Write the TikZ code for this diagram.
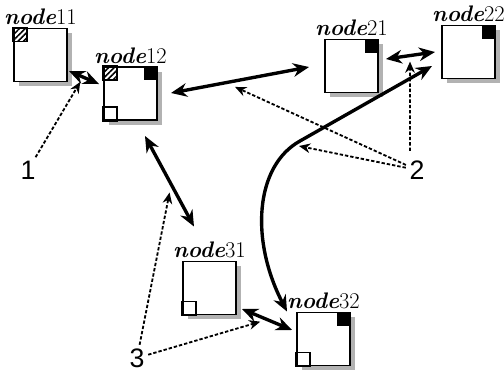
\documentclass[tikz,border=0pt]{standalone}
\usepackage{fontspec}
\newfontfamily\numfont{Liberation Sans}
\usetikzlibrary{arrows.meta,calc,patterns.meta,shadows}

\begin{document}
\begin{tikzpicture}[x=0.25mm,y=-0.25mm,
  cell/.style={draw,line width=1.4pt,fill=white,minimum size=13.25mm,inner sep=0pt,
    general shadow={fill=gray!60,shadow xshift=1.2mm,shadow yshift=-1.2mm},
    label={[font=\fontsize{16}{18}\selectfont,inner sep=1.5pt]above:{\textbf{\textit{node}}#1}}},
  hatched/.style={draw,line width=1pt,pattern={Lines[angle=45,distance=2.8pt,line width=1.1pt]}},
  link/.style={line width=2.4pt,{Stealth[length=4mm,width=3.4mm]}-{Stealth[length=4mm,width=3.4mm]}},
  hint/.style={line width=1.3pt,dash pattern=on 2.4pt off 1.4pt,shorten <=1pt,
    -{Stealth[length=2.8mm,width=2.4mm]}},
  tag/.style={font=\numfont\fontsize{19}{21}\selectfont,inner sep=1.5pt}]
\useasboundingbox (0,0) rectangle (504,371);

% the six cells
\node[cell=11] (n11) at (40.5,55) {};
\node[cell=12] (n12) at (130.5,93.5) {};
\node[cell=21] (n21) at (351.5,66) {};
\node[cell=22] (n22) at (468.5,52) {};
\node[cell=31] (n31) at (209.5,288) {};
\node[cell=32] (n32) at (323.5,339) {};

% corner marks
\draw[hatched] (n11.north west) rectangle ++(14,14);
\draw[hatched] (n12.north west) rectangle ++(14,14);
\fill (n12.north east) rectangle ++(-14,14);
\draw[line width=1pt] (n12.south west) rectangle ++(14,-14);
\fill (n21.north east) rectangle ++(-14,14);
\fill (n22.north east) rectangle ++(-14,14);
\draw[line width=1pt] (n31.south west) rectangle ++(14,-14);
\fill (n32.north east) rectangle ++(-14,14);
\draw[line width=1pt] (n32.south west) rectangle ++(14,-14);

% links between cells
\draw[link] ($(n11.south east)+(1,-11.5)$) -- coordinate[pos=0.375] (l1) ($(n12.north west)+(-4,18)$);
\draw[link] ($(n12.east)+(13,-0.5)$) -- coordinate[pos=0.464] (l2) ($(n21.west)+(-15,1)$);
\draw[link] ($(n12.south)+(14.5,15)$) -- coordinate[pos=0.624] (l3) ($(n31.north)+(-15.5,-34)$);
\draw[link] ($(n21.east)+(7,-7)$) -- coordinate[pos=0.49] (l4) ($(n22.west)+(-6,0)$);
\draw[link] ($(n31.south east)+(5,-6.5)$) -- coordinate[pos=0.365] (l5) ($(n32.west)+(-4,-9)$);
\coordinate (bend) at (300,141);
\draw[link] ($(n22.west)+(-9,14)$) -- (bend)
  .. controls (255,166) and (250,240) .. ($(n32.north west)+(-9,0)$);

% callouts
\node[tag] (t1) at (28,170) {1};
\node[tag] (t2) at (417,170) {2};
\node[tag] (t3) at (137,358) {3};
\draw[hint] (t1) -- ($(l1)+(0,6)$);
\draw[hint] (t2) -- ($(l2)+(0,6)$);
\draw[hint] (t2) -- ($(bend)+(-1,5)$);
\draw[hint] ($(t2.north)+(-7,-6)$) -- ($(l4)+(0,6)$);
\draw[hint] (t3) -- ($(l3)+(-6,0)$);
\draw[hint] (t3) -- ($(l5)+(0,5)$);
\end{tikzpicture}
\end{document}
